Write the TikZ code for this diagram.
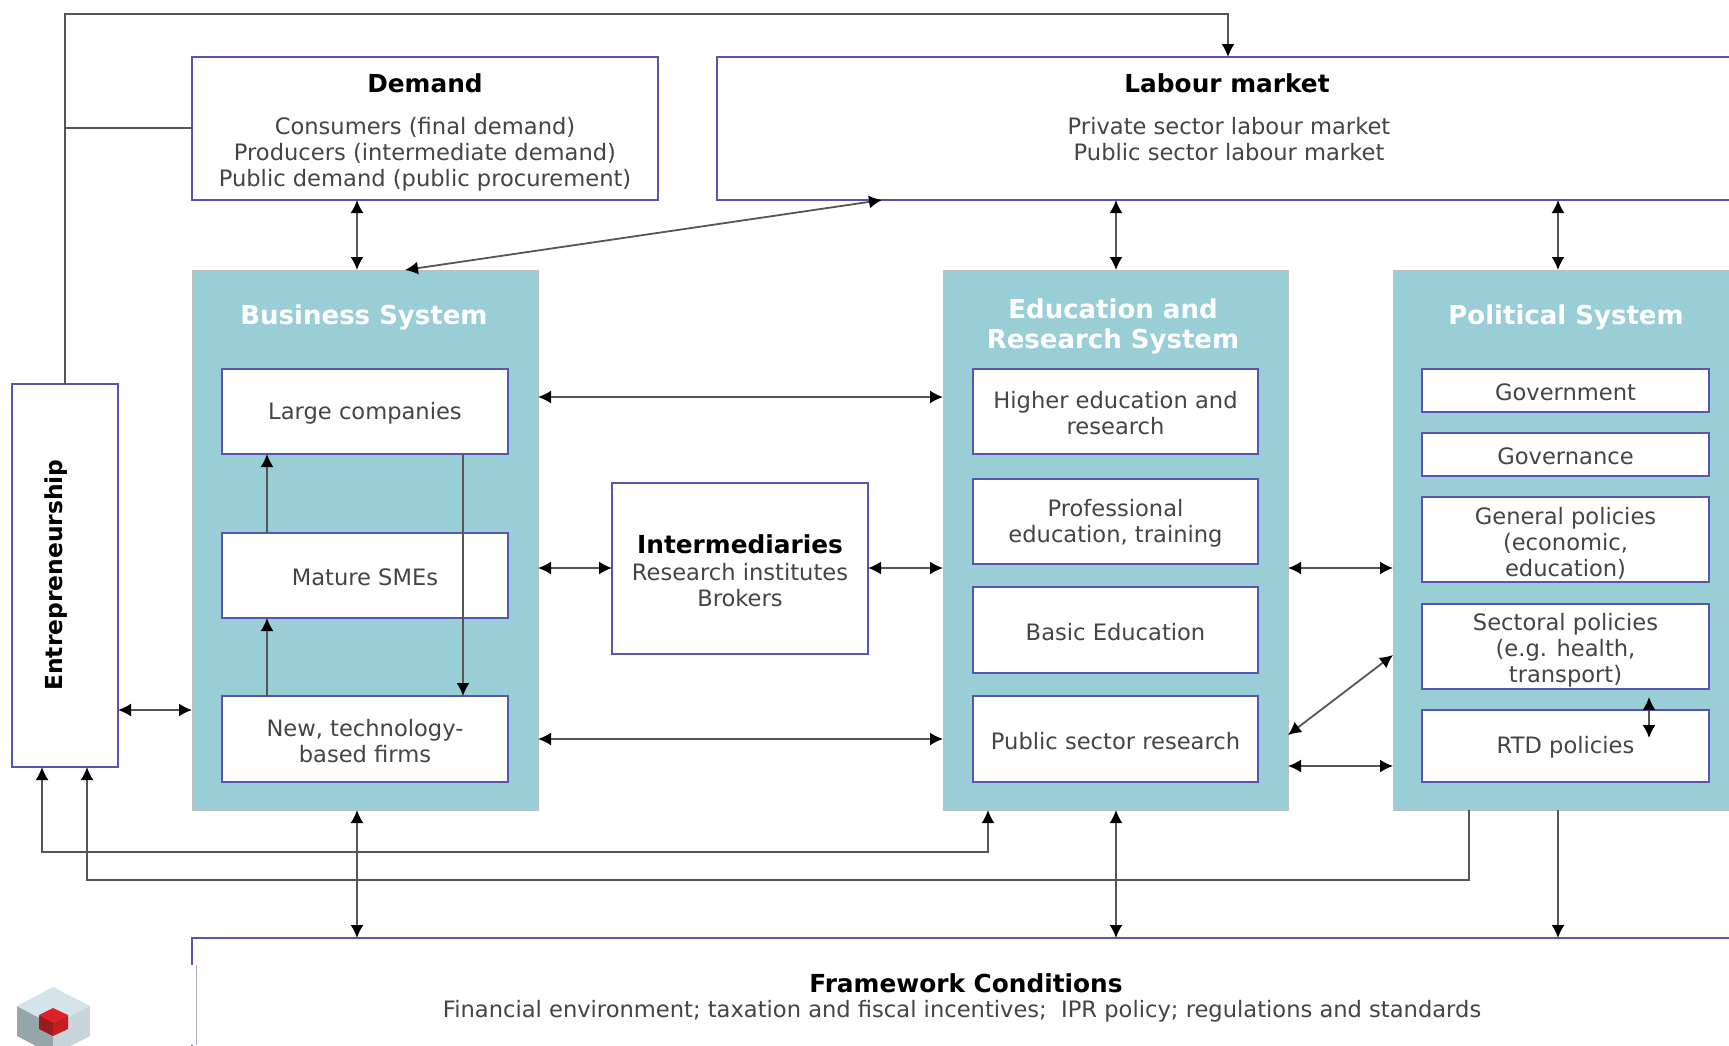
\documentclass[tikz,border=0pt]{standalone}
\usepackage{fontspec}
\setmainfont{DejaVu Sans}
\usetikzlibrary{arrows.meta}
\definecolor{teal1}{HTML}{99CED6}
\definecolor{edge1}{HTML}{5656B0}
\definecolor{line1}{HTML}{555555}
\definecolor{text1}{HTML}{444444}
\definecolor{cubeleft}{HTML}{95A5AA}
\definecolor{cuberight}{HTML}{C8D5DB}
\definecolor{cubetop}{HTML}{D5E3EA}
\definecolor{redleft}{HTML}{9B1C1C}
\definecolor{redright}{HTML}{C41E20}
\definecolor{redtop}{HTML}{E01F26}
\tikzset{
  frame/.style={draw=edge1,fill=white,line width=1.2pt,inner sep=0pt,outer sep=0pt},
  sys/.style={draw=black!25,fill=teal1,line width=.4pt,inner sep=0pt,outer sep=0pt},
  txt/.style={text=text1,align=center,inner sep=0pt,font=\fontsize{11.3}{13}\selectfont},
  ttl/.style={text=black,align=center,inner sep=0pt,font=\fontsize{12.4}{14}\selectfont\bfseries},
  systtl/.style={text=white,align=center,inner sep=0pt,font=\fontsize{13}{15}\selectfont\bfseries},
  link/.style={draw=line1,line width=.9pt},
  two/.style={link,{Latex[length=6.5pt,width=6.5pt,black]}-{Latex[length=6.5pt,width=6.5pt,black]}},
  one/.style={link,-{Latex[length=6.5pt,width=6.5pt,black]}},
}
\def\tshift{-0.8pt}
% name, style, x1, y1, x2, y2, text
\newcommand{\bx}[7]{\node[#2,minimum width={(#5-#3)*0.5pt},minimum height={(#6-#4)*0.5pt}] (#1) at ({(#3+#5)/2},{(#4+#6)/2}) {};
  \node[txt,yshift=\tshift] (#1text) at (#1) {#7};}
\begin{document}
\begin{tikzpicture}[x=0.5pt,y=-0.5pt]
\useasboundingbox (0,0) rectangle (1729,1045);
\clip (0,0) rectangle (1729,1045);
% outer boxes
\bx{demand}{frame}{192}{57}{658}{200}{}
\bx{labour}{frame}{717}{57}{1739}{200}{}
\bx{framework}{frame}{192}{938}{1739}{1100}{}
\bx{entre}{frame}{12}{384}{118}{767}{}
\bx{inter}{frame}{612}{483}{868}{654}{}
% systems
\bx{business}{sys}{192}{270}{538}{810}{}
\bx{edu}{sys}{943}{270}{1288}{810}{}
\bx{pol}{sys}{1393}{270}{1739}{810}{}
% inner boxes
\bx{large}{frame}{222}{369}{508}{454}{Large companies}
\bx{mature}{frame}{222}{533}{508}{618}{Mature SMEs}
\bx{newfirms}{frame}{222}{696}{508}{782}{New, technology-\\based firms}
\bx{higher}{frame}{973}{369}{1258}{454}{Higher education and\\research}
\bx{prof}{frame}{973}{479}{1258}{564}{Professional\\education, training}
\bx{basic}{frame}{973}{587}{1258}{673}{Basic Education}
\bx{pubres}{frame}{973}{696}{1258}{782}{Public sector research}
\bx{gov}{frame}{1422}{369}{1709}{412}{Government}
\bx{govn}{frame}{1422}{433}{1709}{476}{Governance}
\bx{rtd}{frame}{1422}{710}{1709}{782}{RTD policies}
\def\tshift{-1.7pt}
\bx{general}{frame}{1422}{497}{1709}{582}{General policies\\(economic,\\education)}
\bx{sectoral}{frame}{1422}{604}{1709}{689}{Sectoral policies\\(e.g. health,\\transport)}
% texts
\node[ttl] (tdemand) at (425,83) {Demand};
\node[txt] (ldemand) at (425,154) {Consumers (final demand)\\Producers (intermediate demand)\\Public demand (public procurement)};
\node[ttl] (tlabour) at (1227,83) {Labour market};
\node[txt] (llabour) at (1229,139) {Private sector labour market\\Public sector labour market};
\node[systtl] (tbus) at (364,317) {Business System};
\node[systtl] (tedu) at (1113,326) {Education and\\Research System};
\node[systtl] (tpol) at (1566,317) {Political System};
\node[ttl,font=\fontsize{11.7}{14}\selectfont\bfseries,rotate=90] (tentre) at (56,575) {Entrepreneurship};
\node[ttl] (tinter) at (740,544) {Intermediaries};
\node[txt] (linter) at (740,585) {Research institutes\\Brokers};
\node[ttl] (tframe) at (966,983) {Framework Conditions};
\node[txt] (lframe) at (962,1011) {Financial environment; taxation and fiscal incentives;\ \ IPR policy; regulations and standards};
% connectors
\draw[one] (entre.north) -- (entre.north |- 0,14) -- (1228,14) -- (1228,0 |- labour.north);
\draw[link] (demand.west |- 0,128) -- (entre.north |- 0,128);
\draw[two] (357,0 |- demand.south) -- (357,0 |- business.north);
\draw[two] (882,0 |- labour.south) -- (405,0 |- business.north);
\draw[two] (1116,0 |- labour.south) -- (1116,0 |- edu.north);
\draw[two] (1558,0 |- labour.south) -- (1558,0 |- pol.north);
\draw[two] (business.east |- 0,397) -- (edu.west |- 0,397);
\draw[two] (business.east |- 0,739) -- (edu.west |- 0,739);
\draw[two] (business.east |- 0,568) -- (inter.west |- 0,568);
\draw[two] (inter.east |- 0,568) -- (edu.west |- 0,568);
\draw[two] (edu.east |- 0,568) -- (pol.west |- 0,568);
\draw[two] (edu.east |- 0,735) -- (pol.west |- 0,655);
\draw[two] (edu.east |- 0,766) -- (pol.west |- 0,766);
\draw[two] (entre.east |- 0,710) -- (business.west |- 0,710);
\draw[one] (267,0 |- mature.north) -- (267,0 |- large.south);
\draw[one] (267,0 |- newfirms.north) -- (267,0 |- mature.south);
\draw[one] (463,0 |- large.south) -- (463,0 |- newfirms.north);
\draw[two] (42,0 |- entre.south) -- (42,852) -- (988,852) -- (988,0 |- edu.south);
\draw[one] (1469,0 |- pol.south) -- (1469,880) -- (87,880) -- (87,0 |- entre.south);
\draw[two] (357,0 |- business.south) -- (357,0 |- framework.north);
\draw[two] (1116,0 |- edu.south) -- (1116,0 |- framework.north);
\draw[one] (1558,0 |- pol.south) -- (1558,0 |- framework.north);
\draw[two] (1649,697) -- (1649,738);
% white patch over the lower left of the framework box
\fill[white] (0,965) rectangle (195.5,1045);
\draw[edge1!50,line width=.5pt] (196,965) -- (196,1045);
% cube logo
\fill[cubeleft] (17,1006) -- (53,1025) -- (53,1055) -- (17,1036) -- cycle;
\fill[cuberight] (90,1006) -- (53,1025) -- (53,1055) -- (90,1036) -- cycle;
\fill[cubetop] (53,987) -- (90,1006) -- (53,1025) -- (17,1006) -- cycle;
\fill[redleft] (39,1015) -- (53,1022) -- (53,1036) -- (39,1029) -- cycle;
\fill[redright] (68,1015) -- (53,1022) -- (53,1036) -- (68,1029) -- cycle;
\fill[redtop] (53,1008) -- (68,1015) -- (53,1022) -- (39,1015) -- cycle;
\end{tikzpicture}
\end{document}
